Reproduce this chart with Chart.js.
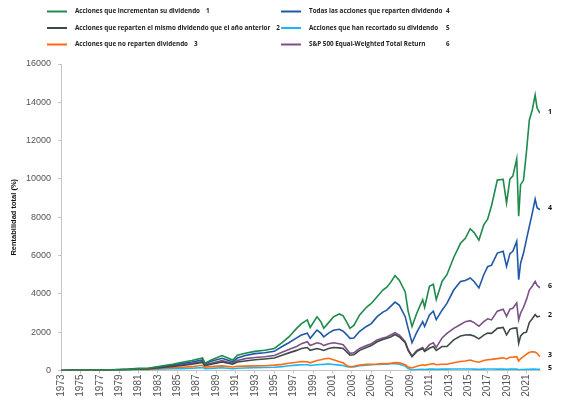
<!DOCTYPE html>
<html>
<head>
<meta charset="utf-8">
<script src="https://cdn.jsdelivr.net/npm/chart.js@4/dist/chart.umd.min.js"></script>
<style>
    html, body { margin: 0; padding: 0; background: #fff; }
    #wrap { width: 568px; height: 404px; }
</style>
</head>
<body>
<div id="wrap"><canvas id="chart"></canvas></div>
<script>
const years = [
    1973, 1974, 1975, 1976, 1977, 1978, 1979, 1980, 1981, 1982,
    1982.6, 1983.5, 1984.5, 1985.5, 1986.5, 1987.6, 1987.85, 1988.5, 1989.6, 1990.7,
    1991.2, 1992, 1993, 1994, 1995, 1995.8, 1996.5, 1997.3, 1997.8, 1998.4,
    1998.7, 1999.4, 1999.8, 2000.1, 2000.6, 2001.1, 2001.7, 2002.1, 2002.5, 2002.8,
    2003.2, 2003.8, 2004.5, 2005.0, 2005.6, 2006.2, 2006.6, 2007.0, 2007.45, 2007.9,
    2008.5, 2008.8, 2009.2, 2009.7, 2010.3, 2010.5, 2011.0, 2011.4, 2011.7, 2012.3,
    2012.8, 2013.5, 2014.2, 2014.7, 2015.2, 2015.6, 2016.1, 2016.6, 2017.0, 2017.4,
    2018.0, 2018.6, 2018.95, 2019.3, 2019.6, 2020.0, 2020.2, 2020.4, 2020.7, 2021.0,
    2021.3, 2021.6, 2021.9, 2022.1, 2022.4,
];

// 1
const incrementan = [
    0, 5, 10, 20, 25, 35, 50, 70, 110, 120,
    170, 250, 330, 430, 520, 650, 380, 550, 780, 550,
    800, 900, 1000, 1060, 1150, 1450, 1750, 2200, 2450, 2640,
    2250, 2800, 2550, 2200, 2500, 2800, 2950, 2850, 2500, 2200,
    2350, 2900, 3300, 3500, 3850, 4200, 4350, 4600, 4950, 4700,
    4100, 3100, 2300, 3000, 3700, 3300, 4400, 4500, 3700, 4650,
    5000, 5900, 6640, 6900, 7400, 7200, 6800, 7600, 7900, 8600,
    9940, 9980, 8740, 10000, 10150, 11050, 8060, 9700, 9940, 11400,
    13080, 13600, 14380, 13700, 13430,
];
// 2
const mismo = [
    0, 5, 8, 13, 18, 25, 35, 50, 75, 80,
    115, 160, 210, 260, 330, 420, 260, 330, 450, 330,
    440, 500, 560, 600, 650, 800, 920, 1050, 1150, 1200,
    1050, 1150, 1100, 1050, 1150, 1200, 1180, 1150, 950, 800,
    820, 1050, 1200, 1300, 1500, 1620, 1680, 1750, 1880, 1750,
    1450, 1050, 720, 1000, 1150, 1000, 1160, 1250, 1050, 1250,
    1250, 1600, 1800, 1850, 1860, 1800, 1650, 1850, 1950, 1940,
    2200, 2250, 1860, 2150, 2200, 2220, 1420, 1800, 1960, 2000,
    2500, 2700, 2920, 2800, 2830,
];
// 3
const noReparten = [
    0, 3, 10, 15, 20, 30, 40, 50, 55, 60,
    90, 130, 150, 170, 200, 270, 170, 200, 240, 180,
    220, 230, 240, 250, 280, 320, 380, 430, 470, 460,
    400, 520, 560, 600, 640, 560, 460, 400, 250, 200,
    220, 290, 320, 330, 340, 360, 350, 380, 410, 400,
    300, 180, 130, 220, 300, 270, 330, 360, 300, 330,
    330, 400, 470, 500, 550, 480, 430, 520, 560, 580,
    620, 660, 600, 690, 700, 720, 500, 620, 720, 850,
    950, 980, 960, 900, 720,
];
// 4
const todas = [
    0, 5, 10, 18, 22, 30, 45, 60, 95, 100,
    150, 210, 280, 360, 440, 550, 350, 480, 640, 450,
    650, 780, 880, 930, 1000, 1250, 1450, 1700, 1850, 1950,
    1680, 2110, 1950, 1760, 1950, 2100, 2150, 2050, 1850, 1680,
    1700, 2050, 2300, 2450, 2810, 3050, 3150, 3350, 3570, 3400,
    2810, 2200, 1450, 2000, 2550, 2300, 2900, 3100, 2650, 3150,
    3500, 4200, 4650, 4700, 4830, 4650, 4310, 5000, 5420, 5500,
    6130, 6220, 5430, 6100, 6220, 6740, 4740, 5600, 6130, 6830,
    7520, 8200, 8950, 8500, 8390,
];
// 5
const recortado = [
    0, 2, 5, 10, 12, 18, 25, 35, 40, 40,
    60, 80, 90, 100, 120, 150, 90, 110, 140, 90,
    120, 130, 150, 160, 170, 200, 250, 280, 300, 300,
    260, 300, 310, 320, 340, 310, 280, 260, 200, 180,
    190, 250, 280, 300, 310, 330, 330, 350, 360, 330,
    230, 100, 30, 50, 60, 55, 70, 75, 60, 70,
    70, 80, 80, 75, 80, 70, 60, 70, 75, 75,
    70, 75, 60, 70, 70, 70, 40, 50, 55, 60,
    65, 70, 70, 65, 60,
];
// 6
const equalWeighted = [
    0, 5, 10, 15, 20, 28, 40, 55, 85, 90,
    130, 180, 240, 300, 380, 470, 300, 380, 520, 380,
    520, 620, 680, 720, 780, 950, 1100, 1250, 1400, 1500,
    1300, 1450, 1400, 1300, 1400, 1450, 1400, 1350, 1100, 900,
    920, 1150, 1300, 1400, 1590, 1700, 1750, 1850, 1980, 1850,
    1500, 1100, 750, 1050, 1200, 1050, 1350, 1450, 1200, 1700,
    1940, 2200, 2400, 2550, 2600, 2500, 2310, 2550, 2700, 2640,
    3100, 3200, 2830, 3200, 3250, 3530, 2640, 3000, 3300, 3700,
    4200, 4400, 4650, 4450, 4310,
];

const xTickYears = [
    1973, 1975, 1977, 1979, 1981, 1983, 1985, 1987, 1989, 1991, 1993, 1995, 1997,
    1999, 2001, 2003, 2005, 2007, 2009, 2011, 2013, 2015, 2017, 2019, 2021,
];
const seriesNames = [
    "Acciones que incrementan su dividendo",
    "Acciones que reparten el mismo dividendo que el año anterior",
    "Acciones que no reparten dividendo",
    "Todas las acciones que reparten dividendo",
    "Acciones que han recortado su dividendo",
    "S&P 500 Equal-Weighted Total Return",
];
const seriesNumbers = ["1", "2", "3", "4", "5", "6"];
const seriesValues = [incrementan, mismo, noReparten, todas, recortado, equalWeighted];
const seriesColors = ["#1e8a4c", "#3e4a47", "#ff6b12", "#1f58a8", "#1ab8ef", "#7b5186"];

function toPoints(values) {
    return years.map((year, i) => ({ x: year, y: values[i] }));
}

// legend on two columns + numbers at the line ends
const labelsPlugin = {
    id: "labels",
    afterDraw(chart) {
        const ctx = chart.ctx;
        ctx.save();
        ctx.font = "bold 6.3px 'Open Sans'";
        ctx.textBaseline = "middle";
        chart.data.datasets.forEach((ds, i) => {
            const col = i < 3 ? 0 : 1;
            const row = i % 3;
            const lx = col == 0 ? 47 : 281;
            const ly = 11.5 + row * 16.5;
            ctx.strokeStyle = ds.borderColor;
            ctx.lineWidth = 2;
            ctx.beginPath();
            ctx.moveTo(lx, ly);
            ctx.lineTo(lx + 20, ly);
            ctx.stroke();
            ctx.fillStyle = "#222";
            ctx.textAlign = "left";
            ctx.fillText(ds.label, lx + 28, ly);
            const w = ctx.measureText(ds.label).width;
            const nx = col == 0 ? lx + 28 + w + 6 : 446;
            ctx.fillText(seriesNumbers[i], nx, ly);
        });

        ctx.font = "bold 7px 'Open Sans'";
        ctx.fillStyle = "#111";
        const xs = chart.scales.x;
        const ys = chart.scales.y;
        chart.data.datasets.forEach((ds, i) => {
            const last = ds.data[ds.data.length - 1];
            ctx.fillText(seriesNumbers[i], xs.right + 8, ys.getPixelForValue(last.y) - 1.5);
        });
        ctx.restore();
    },
};

new Chart(document.getElementById("chart"), {
    type: "line",
    data: {
        datasets: seriesNames.map((name, i) => ({
            label: name,
            data: toPoints(seriesValues[i]),
            borderColor: seriesColors[i],
            backgroundColor: seriesColors[i],
            borderWidth: 1.6,
            pointRadius: 0,
            tension: 0,
        })),
    },
    options: {
        responsive: true,
        maintainAspectRatio: false,
        animation: false,
        layout: { padding: { top: 64, right: 28, left: 0, bottom: 0 } },
        plugins: {
            legend: { display: false },
            tooltip: { enabled: false },
        },
        scales: {
            x: {
                type: "linear",
                min: 1973,
                max: 2022.4,
                afterBuildTicks: (scale) => {
                    scale.ticks = xTickYears.map((v) => ({ value: v }));
                },
                afterFit: (scale) => {
                    scale.height = 33.5;
                },
                ticks: {
                    autoSkip: false,
                    minRotation: 90,
                    maxRotation: 90,
                    padding: 1,
                    color: "#555",
                    font: { family: "'Liberation Sans', Arial", size: 10 },
                    callback: (v) => String(v),
                },
                grid: { drawOnChartArea: false, drawTicks: true, tickLength: 3, color: "#c4c4c4" },
                border: { color: "#c4c4c4" },
            },
            y: {
                min: 0,
                max: 16000,
                afterFit: (scale) => {
                    scale.width = 61;
                },
                ticks: {
                    stepSize: 2000,
                    padding: 7,
                    color: "#555",
                    font: { family: "'Liberation Sans', Arial", size: 9 },
                    callback: (v) => String(v),
                },
                grid: { drawOnChartArea: false, drawTicks: true, tickLength: 3, color: "#c4c4c4" },
                border: { color: "#c4c4c4" },
                title: {
                    display: true,
                    text: "Rentabilidad total (%)",
                    color: "#111",
                    font: { family: "'Liberation Sans', Arial", size: 7.5, weight: "bold" },
                    padding: { top: 9, bottom: 0 },
                },
            },
        },
    },
    plugins: [labelsPlugin],
});
</script>
</body>
</html>
